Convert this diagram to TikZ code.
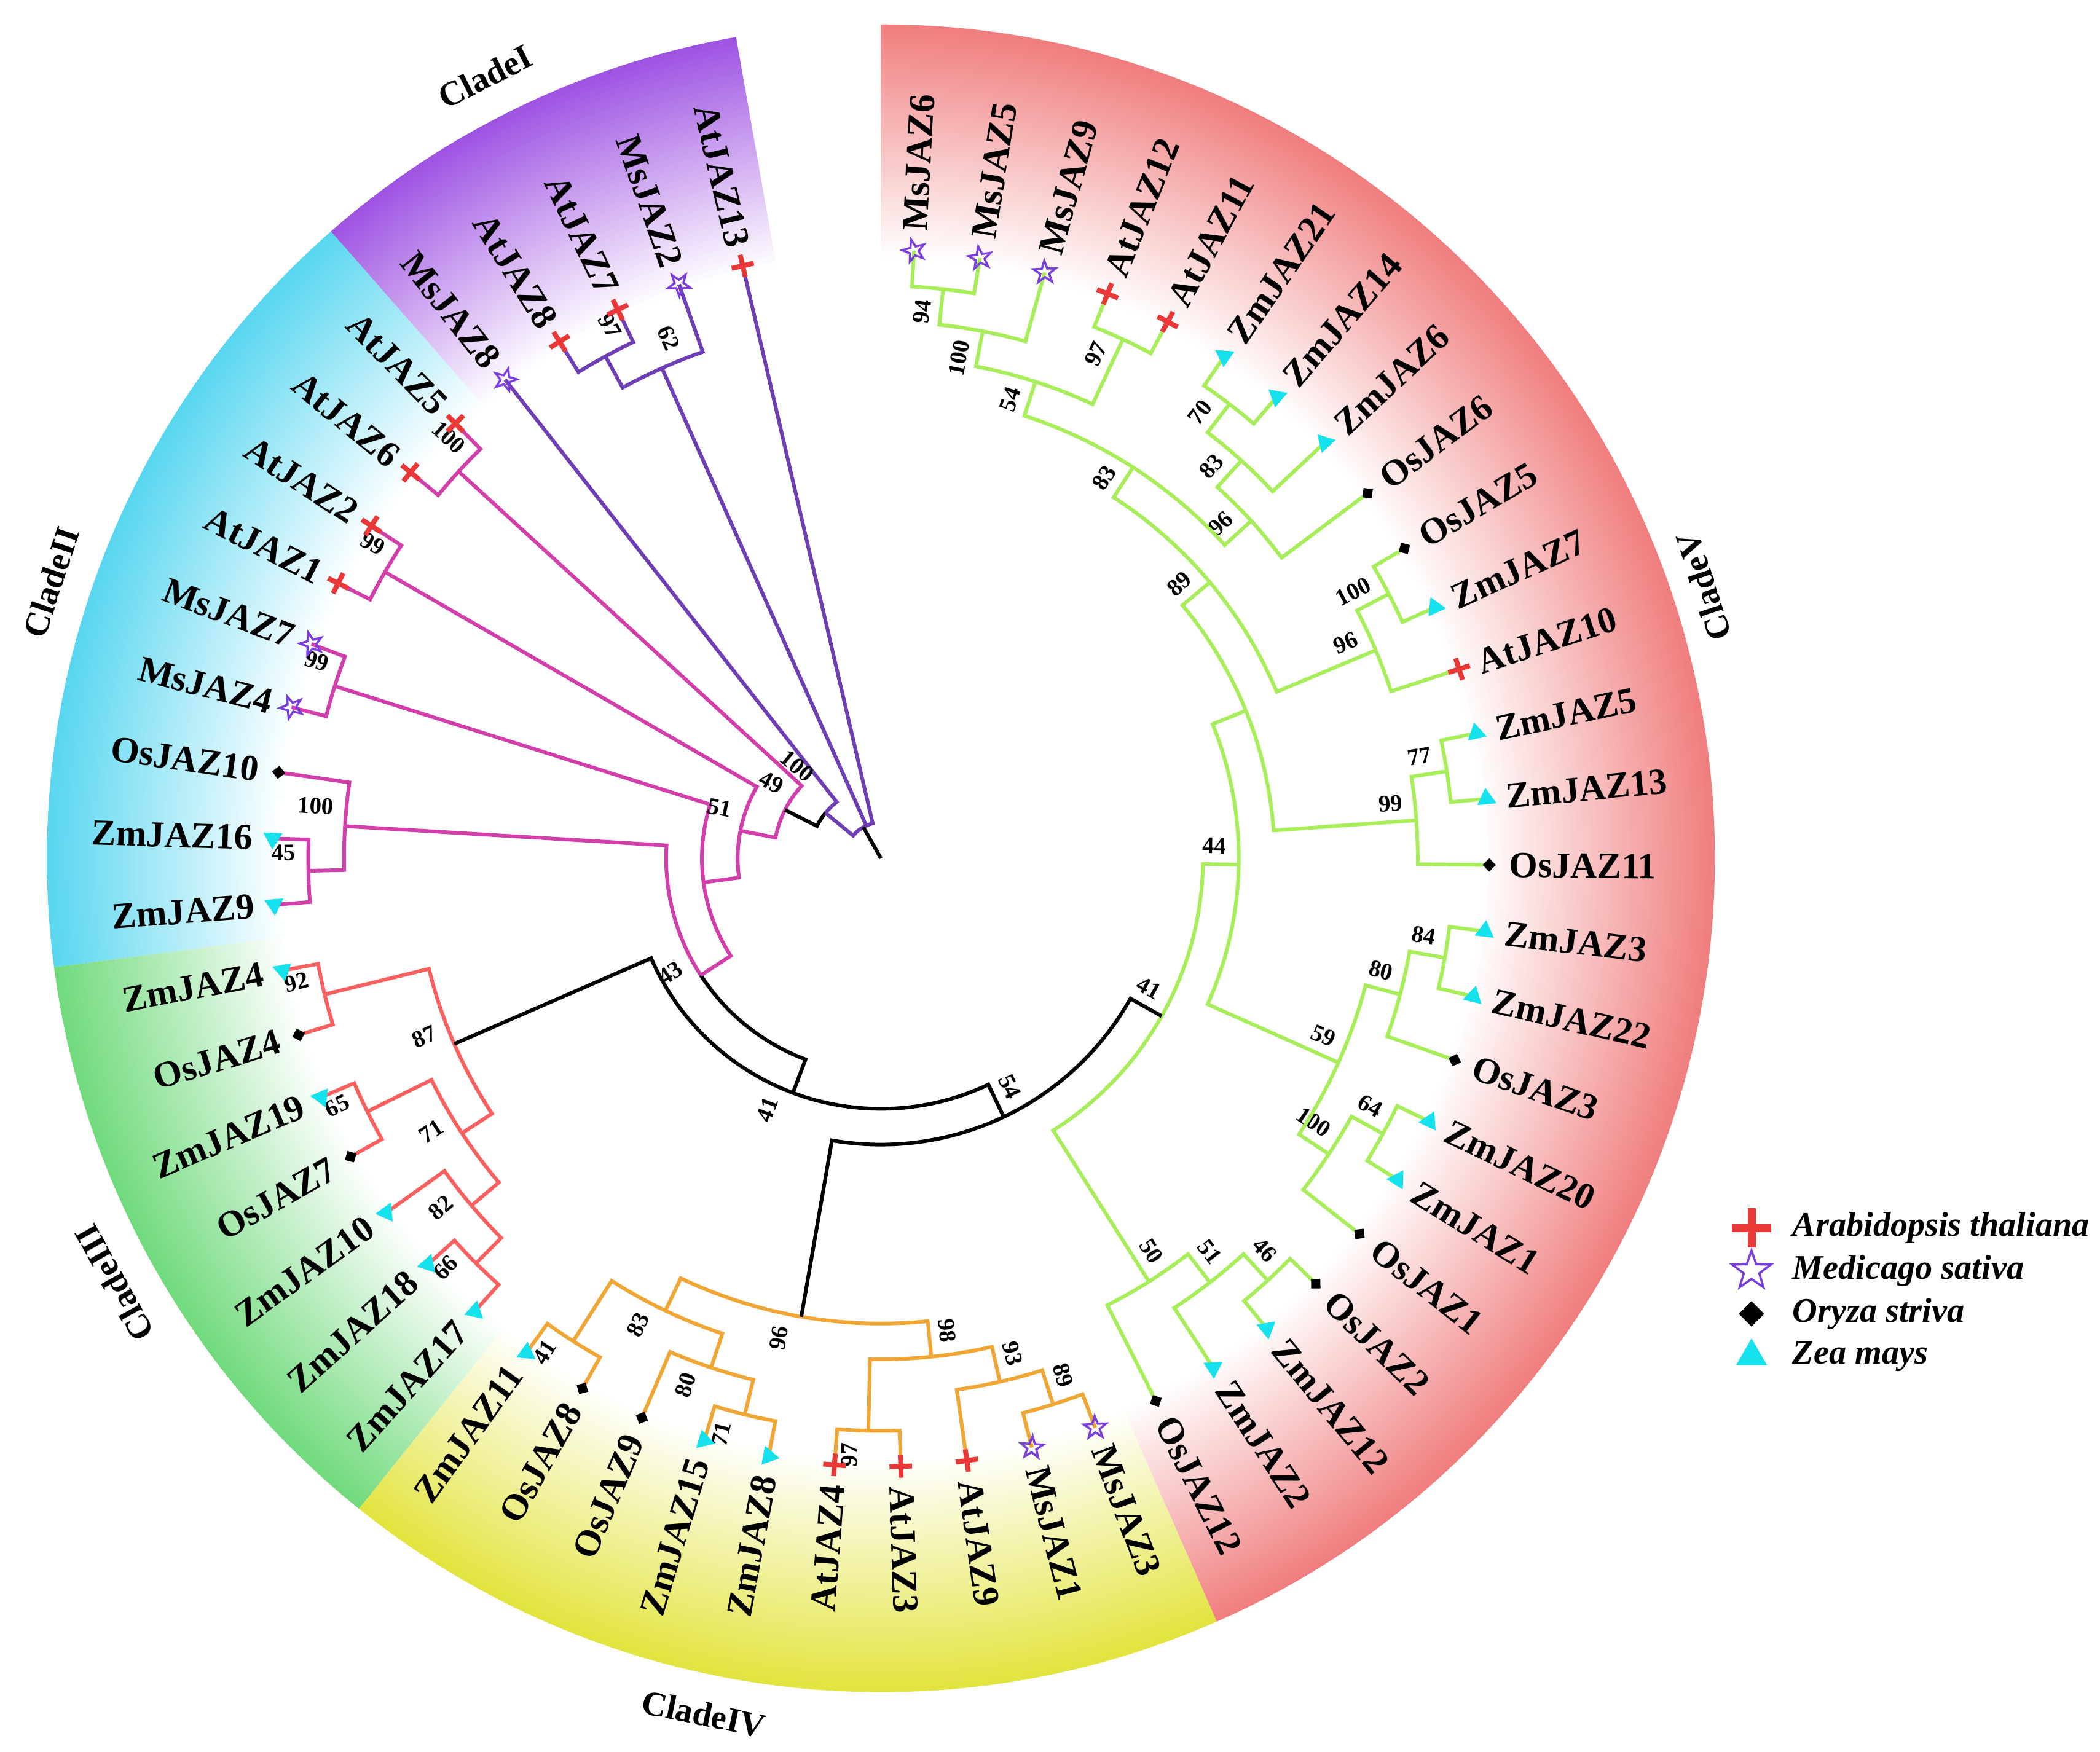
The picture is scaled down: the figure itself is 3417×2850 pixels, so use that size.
\documentclass[tikz,border=0pt]{standalone}
\usepackage{fontspec}
\setmainfont{Liberation Serif}
\usetikzlibrary{calc,shapes.geometric,shapes.misc}

%%% Colours
\definecolor{wedgeRed}{RGB}{240,125,125}
\definecolor{wedgeYellow}{RGB}{226,228,62}
\definecolor{wedgeGreen}{RGB}{112,218,124}
\definecolor{wedgeBlue}{RGB}{88,214,240}
\definecolor{wedgePurple}{RGB}{158,82,226}
\definecolor{lnI}{RGB}{110,62,180}
\definecolor{lnII}{RGB}{210,62,170}
\definecolor{lnIII}{RGB}{250,96,96}
\definecolor{lnIV}{RGB}{240,166,52}
\definecolor{lnV}{RGB}{168,238,90}
\definecolor{atRed}{RGB}{232,56,56}
\definecolor{msPurple}{RGB}{122,62,220}
\definecolor{zmCyan}{RGB}{22,226,238}

%%% Clade backgrounds (white inside, colour at the rim; 25bp is the rim)
\pgfdeclareradialshading{fadeV}{\pgfpoint{0bp}{0bp}}{color(0bp)=(white); color(18bp)=(white); color(25bp)=(wedgeRed); color(50bp)=(wedgeRed)}
\pgfdeclareradialshading{fadeIV}{\pgfpoint{0bp}{0bp}}{color(0bp)=(white); color(18bp)=(white); color(25bp)=(wedgeYellow); color(50bp)=(wedgeYellow)}
\pgfdeclareradialshading{fadeIII}{\pgfpoint{0bp}{0bp}}{color(0bp)=(white); color(18bp)=(white); color(25bp)=(wedgeGreen); color(50bp)=(wedgeGreen)}
\pgfdeclareradialshading{fadeII}{\pgfpoint{0bp}{0bp}}{color(0bp)=(white); color(18bp)=(white); color(25bp)=(wedgeBlue); color(50bp)=(wedgeBlue)}
\pgfdeclareradialshading{fadeI}{\pgfpoint{0bp}{0bp}}{color(0bp)=(white); color(18bp)=(white); color(25bp)=(wedgePurple); color(50bp)=(wedgePurple)}

\pgfdeclarelayer{front}
\pgfsetlayers{main,front}

\tikzset{
  branch/.style={line width=1.7pt, line join=miter},
  leaftext/.style={font=\bfseries\fontsize{17}{17}\selectfont, inner sep=0pt},
  boot/.style={font=\bfseries\fontsize{11}{11}\selectfont, inner sep=0pt},
  cladetext/.style={font=\bfseries\fontsize{16}{16}\selectfont, inner sep=0pt},
  keytext/.style={font=\bfseries\itshape\fontsize{16}{16}\selectfont, inner sep=0pt},
  atmark/.style={cross out, draw=atRed, line width=0.08cm, minimum size=0.18cm, inner sep=0pt, rotate=45},
  msmark/.style={star, star points=5, star point ratio=2.5, draw=msPurple, line width=1pt, minimum size=0.38cm, inner sep=0pt},
  osmark/.style={diamond, aspect=1, fill=black, minimum size=0.22cm, inner sep=0pt},
  zmmark/.style={regular polygon, regular polygon sides=3, fill=zmCyan, minimum size=0.36cm, inner sep=0pt},
}

% leaf: name, position on the circle, marker style
\newcommand\leaf[3]{%
  \pgfmathsetmacro\la{86.875-6.25*#2}%
  \expandafter\xdef\csname ta@#1\endcsname{\la}%
  \expandafter\xdef\csname th@#1\endcsname{0}%
  \coordinate (#1) at (\la:990);
  \pgfmathtruncatemacro\lside{cos(\la)>=0}%
  \ifnum\lside=1
    \node[leaftext, rotate=\la, anchor=west] (t-#1) at (\la:1022) {#1};
  \else
    \pgfmathsetmacro\lrot{\la+180}%
    \node[leaftext, rotate=\lrot, anchor=east] (t-#1) at (\la:1022) {#1};
  \fi
  \begin{pgfonlayer}{front}
    \node[#3, rotate=\la] (m-#1) at (#1) {};
  \end{pgfonlayer}
}

% clade: name, bootstrap, children as child/colour
\newcommand\clade[3]{%
  \xdef\csum{0}\xdef\ccnt{0}\xdef\chgt{0}%
  \foreach \kid/\kcol in {#3}{%
    \pgfmathsetmacro\tmpa{\csum+\csname ta@\kid\endcsname}\xdef\csum{\tmpa}%
    \pgfmathtruncatemacro\tmpb{\ccnt+1}\xdef\ccnt{\tmpb}%
    \pgfmathtruncatemacro\tmpc{max(\chgt,\csname th@\kid\endcsname)}\xdef\chgt{\tmpc}%
  }%
  \pgfmathsetmacro\na{\csum/\ccnt}%
  \pgfmathtruncatemacro\nh{\chgt+1}%
  \pgfmathsetmacro\nr{990*(1-\nh/17)}%
  \expandafter\xdef\csname ta@#1\endcsname{\na}%
  \expandafter\xdef\csname th@#1\endcsname{\nh}%
  \coordinate (#1) at (\na:\nr);
  \foreach \kid/\kcol in {#3}{%
    \edef\ka{\csname ta@\kid\endcsname}%
    \draw[branch, \kcol] (#1) arc[start angle=\na, end angle=\ka, radius=\nr] -- (\kid);
  }%
  \if\relax\detokenize{#2}\relax\else
    \pgfmathtruncatemacro\bside{cos(\na)>=0}%
    \ifnum\bside=1 \pgfmathsetmacro\brot{\na}\else\pgfmathsetmacro\brot{\na+180}\fi
    \pgfmathsetmacro\bx{\nr*cos(\na)-20*cos(\brot)-30*sin(\brot)}%
    \pgfmathsetmacro\by{\nr*sin(\na)-20*sin(\brot)+30*cos(\brot)}%
    \node[boot, rotate=\brot, anchor=east] (b-#1) at (\bx,\by) {#2};
  \fi
}

\begin{document}
\begin{tikzpicture}[x=0.01cm, y=0.01cm]
  \useasboundingbox (-1433.3,-1453.3) rectangle (1983.7,1396.7);

  %%% Clade sectors
  \foreach \wa/\wb/\wf in {90/-66.25/fadeV, -66.25/-128.75/fadeIV, -128.75/-172.5/fadeIII, -172.5/-228.75/fadeII, -228.75/-260/fadeI}{
    \begin{scope}
      \clip (0,0) -- (\wa:1357) arc[start angle=\wa, end angle=\wb, radius=1357] -- cycle;
      \shade[shading=\wf] (0,0) circle[radius=1357];
    \end{scope}
  }

  %%% Clade names
  \node[cladetext, rotate=26.85] (cladeI) at (116.85:1426) {CladeI};
  \node[cladetext, rotate=71.6] (cladeII) at (161.6:1423) {CladeII};
  \node[cladetext, rotate=119] (cladeIII) at (209:1426) {CladeIII};
  \node[cladetext, rotate=-11.7] (cladeIV) at (258.3:1422) {CladeIV};
  \node[cladetext, rotate=108.3] (cladeV) at (18.3:1410) {CladeV};

  %%% Leaves
  \foreach \nm/\sp [count=\i from 0] in {
    MsJAZ6/msmark, MsJAZ5/msmark, MsJAZ9/msmark, AtJAZ12/atmark, AtJAZ11/atmark,
    ZmJAZ21/zmmark, ZmJAZ14/zmmark, ZmJAZ6/zmmark, OsJAZ6/osmark, OsJAZ5/osmark,
    ZmJAZ7/zmmark, AtJAZ10/atmark, ZmJAZ5/zmmark, ZmJAZ13/zmmark, OsJAZ11/osmark,
    ZmJAZ3/zmmark, ZmJAZ22/zmmark, OsJAZ3/osmark, ZmJAZ20/zmmark, ZmJAZ1/zmmark,
    OsJAZ1/osmark, OsJAZ2/osmark, ZmJAZ12/zmmark, ZmJAZ2/zmmark, OsJAZ12/osmark,
    MsJAZ3/msmark, MsJAZ1/msmark, AtJAZ9/atmark, AtJAZ3/atmark, AtJAZ4/atmark,
    ZmJAZ8/zmmark, ZmJAZ15/zmmark, OsJAZ9/osmark, OsJAZ8/osmark, ZmJAZ11/zmmark,
    ZmJAZ17/zmmark, ZmJAZ18/zmmark, ZmJAZ10/zmmark, OsJAZ7/osmark, ZmJAZ19/zmmark,
    OsJAZ4/osmark, ZmJAZ4/zmmark, ZmJAZ9/zmmark, ZmJAZ16/zmmark, OsJAZ10/osmark,
    MsJAZ4/msmark, MsJAZ7/msmark, AtJAZ1/atmark, AtJAZ2/atmark, AtJAZ6/atmark,
    AtJAZ5/atmark, MsJAZ8/msmark, AtJAZ8/atmark, AtJAZ7/atmark, MsJAZ2/msmark,
    AtJAZ13/atmark}{
    \leaf{\nm}{\i}{\sp}
  }

  %%% Clade I
  \clade{nI97}{97}{AtJAZ8/lnI, AtJAZ7/lnI}
  \clade{nI62}{62}{nI97/lnI, MsJAZ2/lnI}

  %%% Clade II
  \clade{nII100a}{100}{AtJAZ5/lnII, AtJAZ6/lnII}
  \clade{nII99a}{99}{AtJAZ2/lnII, AtJAZ1/lnII}
  \clade{nII99b}{99}{MsJAZ7/lnII, MsJAZ4/lnII}
  \clade{nII45}{45}{ZmJAZ16/lnII, ZmJAZ9/lnII}
  \clade{nII100b}{100}{OsJAZ10/lnII, nII45/lnII}

  %%% Clade III
  \clade{nIII92}{92}{ZmJAZ4/lnIII, OsJAZ4/lnIII}
  \clade{nIII65}{65}{ZmJAZ19/lnIII, OsJAZ7/lnIII}
  \clade{nIII66}{66}{ZmJAZ18/lnIII, ZmJAZ17/lnIII}
  \clade{nIII82}{82}{ZmJAZ10/lnIII, nIII66/lnIII}
  \clade{nIII71}{71}{nIII65/lnIII, nIII82/lnIII}
  \clade{nIII87}{87}{nIII92/lnIII, nIII71/lnIII}

  %%% Clade IV
  \clade{nIV89}{89}{MsJAZ3/lnIV, MsJAZ1/lnIV}
  \clade{nIV93}{93}{nIV89/lnIV, AtJAZ9/lnIV}
  \clade{nIV97}{97}{AtJAZ3/lnIV, AtJAZ4/lnIV}
  \clade{nIV98}{98}{nIV93/lnIV, nIV97/lnIV}
  \clade{nIV71}{71}{ZmJAZ8/lnIV, ZmJAZ15/lnIV}
  \clade{nIV80}{80}{nIV71/lnIV, OsJAZ9/lnIV}
  \clade{nIV41}{41}{OsJAZ8/lnIV, ZmJAZ11/lnIV}
  \clade{nIV83}{83}{nIV80/lnIV, nIV41/lnIV}
  \clade{nIV96}{96}{nIV98/lnIV, nIV83/lnIV}

  %%% Clade V
  \clade{nV94}{94}{MsJAZ6/lnV, MsJAZ5/lnV}
  \clade{nV100a}{100}{nV94/lnV, MsJAZ9/lnV}
  \clade{nV97}{97}{AtJAZ12/lnV, AtJAZ11/lnV}
  \clade{nV54}{54}{nV100a/lnV, nV97/lnV}
  \clade{nV70}{70}{ZmJAZ21/lnV, ZmJAZ14/lnV}
  \clade{nV83a}{83}{nV70/lnV, ZmJAZ6/lnV}
  \clade{nV96a}{96}{nV83a/lnV, OsJAZ6/lnV}
  \clade{nV83b}{83}{nV54/lnV, nV96a/lnV}
  \clade{nV100b}{100}{OsJAZ5/lnV, ZmJAZ7/lnV}
  \clade{nV96b}{96}{nV100b/lnV, AtJAZ10/lnV}
  \clade{nV89}{89}{nV83b/lnV, nV96b/lnV}
  \clade{nV77}{77}{ZmJAZ5/lnV, ZmJAZ13/lnV}
  \clade{nV99}{99}{nV77/lnV, OsJAZ11/lnV}
  \clade{nVup}{}{nV89/lnV, nV99/lnV}
  \clade{nV84}{84}{ZmJAZ3/lnV, ZmJAZ22/lnV}
  \clade{nV80}{80}{nV84/lnV, OsJAZ3/lnV}
  \clade{nV64}{64}{ZmJAZ20/lnV, ZmJAZ1/lnV}
  \clade{nV100c}{100}{nV64/lnV, OsJAZ1/lnV}
  \clade{nV59}{59}{nV80/lnV, nV100c/lnV}
  \clade{nV44}{44}{nVup/lnV, nV59/lnV}
  \clade{nV46}{46}{OsJAZ2/lnV, ZmJAZ12/lnV}
  \clade{nV51}{51}{nV46/lnV, ZmJAZ2/lnV}
  \clade{nV50}{50}{nV51/lnV, OsJAZ12/lnV}
  \clade{nV41}{41}{nV44/lnV, nV50/lnV}

  %%% Backbone
  \clade{bbQ}{54}{nIV96/black, nV41/black}
  \clade{bbP}{41}{nIII87/black, bbQ/black}
  \clade{bbH}{43}{nII100b/lnII, bbP/black}
  \clade{bbG}{}{nII99b/lnII, bbH/lnII}
  \clade{bbE}{51}{nII99a/lnII, bbG/lnII}
  \clade{bbD}{49}{nII100a/lnII, bbE/lnII}
  \clade{bbB}{}{MsJAZ8/lnI, bbD/black}
  \node[boot, rotate=-39.34] (b-bbB) at (132.3:203) {100};
  \clade{bbA}{}{bbB/lnI, nI62/lnI, AtJAZ13/lnI}
  \coordinate (root) at (0,0);
  \draw[branch, black] (root) -- (bbA);

  %%% Legend
  \node[atmark, minimum size=0.32cm, line width=0.13cm] (keyAt) at (1416.7,-601.3) {};
  \node[msmark, minimum size=0.66cm] (keyMs) at (1416.7,-671.3) {};
  \node[osmark, minimum size=0.42cm] (keyOs) at (1416.7,-741.3) {};
  \node[zmmark, minimum size=0.58cm] (keyZm) at (1416.7,-810.3) {};
  \node[keytext, anchor=west] (keyAtText) at (1482.7,-601.3) {Arabidopsis thaliana};
  \node[keytext, anchor=west] (keyMsText) at (1482.7,-671.3) {Medicago sativa};
  \node[keytext, anchor=west] (keyOsText) at (1482.7,-741.3) {Oryza striva};
  \node[keytext, anchor=west] (keyZmText) at (1482.7,-810.3) {Zea mays};

\end{tikzpicture}
\end{document}
